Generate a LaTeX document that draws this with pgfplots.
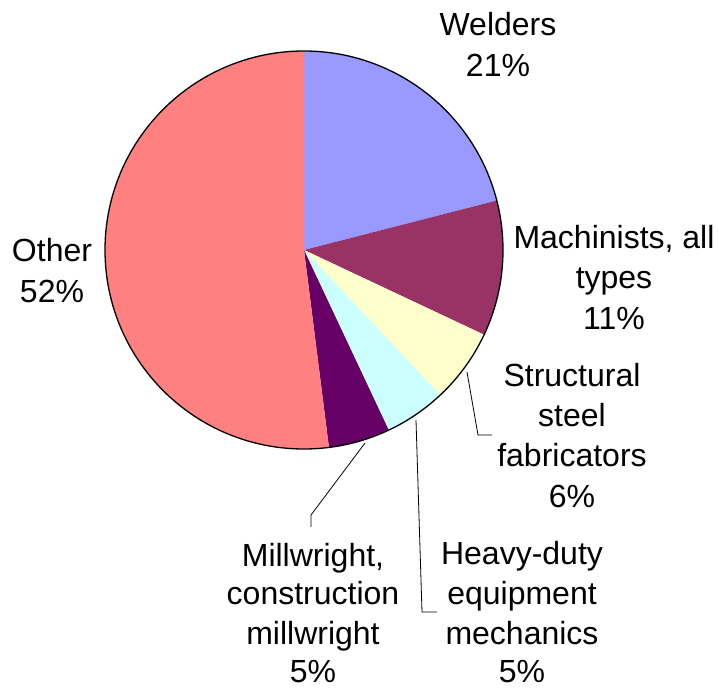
\documentclass[border=0pt]{standalone}
\usepackage{pgfplots}
\usepackage{pgfplotstable}
\pgfplotsset{compat=1.18}
\usepackage{fontspec}
\setmainfont{Liberation Sans}
\definecolor{cWel}{HTML}{9999FF}
\definecolor{cMac}{HTML}{993366}
\definecolor{cStr}{HTML}{FFFFCC}
\definecolor{cHea}{HTML}{CCFFFF}
\definecolor{cMil}{HTML}{660066}
\definecolor{cOth}{HTML}{FF8080}
\newcommand\LB{\fontsize{32bp}{40bp}\selectfont}
\tikzset{lb/.style={anchor=base, inner sep=0pt, outer sep=0pt}}
\pgfplotstableread{
value col
21 cWel
11 cMac
6 cStr
5 cHea
5 cMil
52 cOth
}\piedata
\begin{document}
\begin{tikzpicture}
\begin{axis}[x=1bp,y=1bp,xmin=0,xmax=719,ymin=0,ymax=688,hide axis,clip=false]
\addplot[draw=none] coordinates {(0,0) (719,688)};
\def\acc{0}
\pgfplotsforeachungrouped \i in {0,...,5}{%
  \pgfplotstablegetelem{\i}{value}\of\piedata \let\v\pgfplotsretval
  \pgfplotstablegetelem{\i}{col}\of\piedata \let\c\pgfplotsretval
  \pgfmathsetmacro\sa{90-3.6*\acc}%
  \pgfmathsetmacro\ea{90-3.6*(\acc+\v)}%
  \pgfmathsetmacro\acc{\acc+\v}%
  \edef\temp{\noexpand\fill[\c] (axis cs:304,438) -- ++(\sa:199bp) arc[start angle=\sa, end angle=\ea, radius=199bp] -- cycle;}%
  \temp
}
\draw[black, line width=1.3bp] (axis cs:304,438) circle[radius=199bp];
% leader lines
\draw[black, line width=0.8bp] (axis cs:467,316) -- (axis cs:478,253) -- (axis cs:492,253);
\draw[black, line width=0.8bp] (axis cs:416,268) -- (axis cs:422,76) -- (axis cs:437,76);
\draw[black, line width=0.8bp] (axis cs:365,245) -- (axis cs:311,173) -- (axis cs:311,161);
% labels
\node[lb] at (axis cs:498,652) {\LB Welders};
\node[lb] at (axis cs:498,611) {\LB 21\%};
\node[lb] at (axis cs:614,439) {\LB Machinists, all};
\node[lb] at (axis cs:614,399) {\LB types};
\node[lb] at (axis cs:614,359) {\LB 11\%};
\node[lb] at (axis cs:572,302) {\LB Structural};
\node[lb] at (axis cs:572,262) {\LB steel};
\node[lb] at (axis cs:572,222) {\LB fabricators};
\node[lb] at (axis cs:572,181) {\LB 6\%};
\node[lb] at (axis cs:522,124) {\LB Heavy-duty};
\node[lb] at (axis cs:522,84) {\LB equipment};
\node[lb] at (axis cs:522,44) {\LB mechanics};
\node[lb] at (axis cs:522,6) {\LB 5\%};
\node[lb] at (axis cs:313,122) {\LB Millwright,};
\node[lb] at (axis cs:313,84) {\LB construction};
\node[lb] at (axis cs:313,44) {\LB millwright};
\node[lb] at (axis cs:313,6) {\LB 5\%};
\node[lb] at (axis cs:52,426) {\LB Other};
\node[lb] at (axis cs:52,386) {\LB 52\%};
\end{axis}
\pgfresetboundingbox
\path (0,0) rectangle (719bp,688bp);
\end{tikzpicture}
\end{document}
